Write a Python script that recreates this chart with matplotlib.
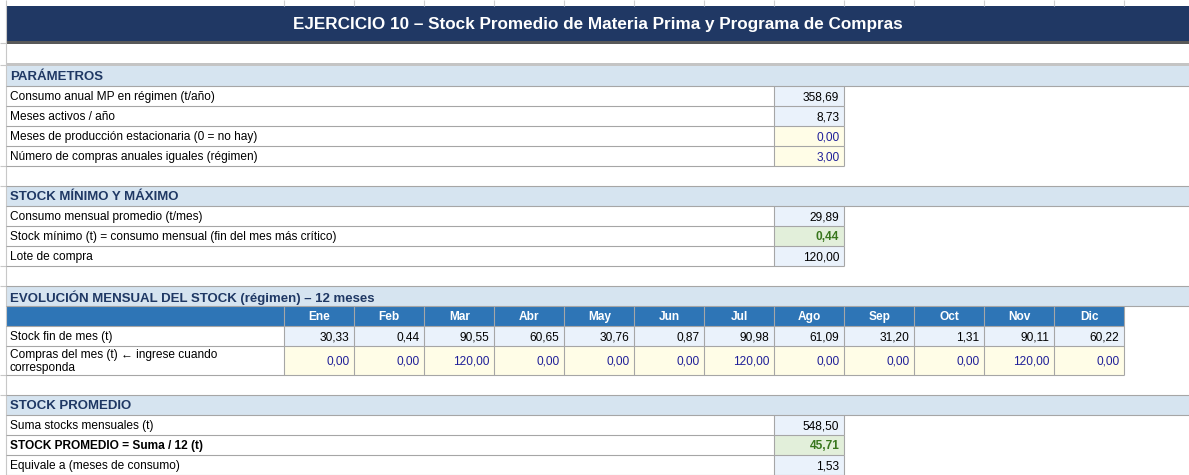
import matplotlib.pyplot as plt
from matplotlib.patches import Rectangle

plt.rcParams['font.family'] = ['Liberation Sans', 'DejaVu Sans']

# ---- data ----
title = "EJERCICIO 10 – Stock Promedio de Materia Prima y Programa de Compras"

param_labels = ["Consumo anual MP en régimen (t/año)",
                "Meses activos / año",
                "Meses de producción estacionaria (0 = no hay)",
                "Número de compras anuales iguales (régimen)"]
param_values = [358.69, 8.73, 0.00, 3.00]
param_kinds = ["calc", "calc", "input", "input"]

minmax_labels = ["Consumo mensual promedio (t/mes)",
                 "Stock mínimo (t) = consumo mensual (fin del mes más crítico)",
                 "Lote de compra"]
minmax_values = [29.89, 0.44, 120.00]
minmax_kinds = ["calc", "result", "calc"]

months = ["Ene", "Feb", "Mar", "Abr", "May", "Jun",
          "Jul", "Ago", "Sep", "Oct", "Nov", "Dic"]
stock_end = [30.33, 0.44, 90.55, 60.65, 30.76, 0.87,
             90.98, 61.09, 31.20, 1.31, 90.11, 60.22]
purchases = [0, 0, 120, 0, 0, 0, 120, 0, 0, 0, 120, 0]

avg_labels = ["Suma stocks mensuales (t)",
              "STOCK PROMEDIO = Suma / 12 (t)",
              "Equivale a (meses de consumo)"]
avg_values = [548.50, 45.71, 1.53]
avg_kinds = ["calc", "result", "calc"]
avg_bold = [False, True, False]

# ---- style ----
NAVY = "#203864"
SEC_BG = "#D6E4F0"
SEC_FG = "#1F3864"
MONTH_BG = "#2E75B6"
CALC_BG = "#EAF2FB"
INPUT_BG = "#FFFDE7"
RES_BG = "#E2EFDA"
GRID = "#A6A6A6"
fills = {"calc": CALC_BG, "input": INPUT_BG, "result": RES_BG}
inks = {"calc": "black", "input": "#1F1F99", "result": "#38761D"}

LEFT = 6
COL0 = 284.3
CW = 70.0
edges = [COL0 + CW * i for i in range(13)]
VX0, VX1 = edges[7], edges[8]
RH = 20
FS = 8.6
DY = 1.3   # small downward nudge so text sits like in the sheet


def fmt(v):
    return f"{v:,.2f}".replace(",", "X").replace(".", ",").replace("X", ".")


def rect(ax, x0, y0, x1, y1, fc, ec="none", lw=0.0, z=1):
    ax.add_patch(Rectangle((x0, y0), x1 - x0, y1 - y0, facecolor=fc,
                           edgecolor=ec, linewidth=lw, zorder=z))


def hline(ax, y, x0, x1, c=GRID, lw=0.8):
    ax.plot([x0, x1], [y, y], color=c, lw=lw, zorder=3, solid_capstyle="butt")


def vline(ax, x, y0, y1, c=GRID, lw=0.8):
    ax.plot([x, x], [y0, y1], color=c, lw=lw, zorder=3, solid_capstyle="butt")


def section(ax, y0, text, thick=False):
    rect(ax, LEFT, y0, 1189, y0 + RH, SEC_BG)
    if thick:
        rect(ax, LEFT, y0 - 3.5, 1189, y0, "#C4C4C4", z=2)
    else:
        hline(ax, y0, LEFT, 1189)
    hline(ax, y0 + RH, LEFT, 1189)
    ax.text(LEFT + 4, y0 + RH / 2 + DY, text, fontsize=9.5, fontweight="bold",
            color=SEC_FG, va="center", ha="left", zorder=4)


def label_rows(ax, y0, labels, values, kinds, bold=None):
    for i, (lab, val, kind) in enumerate(zip(labels, values, kinds)):
        ya, yb = y0 + i * RH, y0 + (i + 1) * RH
        rect(ax, VX0, ya, VX1, yb, fills[kind])
        hline(ax, yb, LEFT, VX1)
        vline(ax, VX0, ya, yb)
        vline(ax, VX1, ya, yb)
        w = "bold" if (bold and bold[i]) else "normal"
        ax.text(LEFT + 4, (ya + yb) / 2 + DY, lab, fontsize=FS, fontweight=w,
                va="center", ha="left", zorder=4)
        ax.text(VX1 - 5, (ya + yb) / 2 + DY, fmt(val), fontsize=FS,
                color=inks[kind],
                fontweight="bold" if kind == "result" else "normal",
                va="center", ha="right", zorder=4)


fig = plt.figure(figsize=(11.89, 4.75), dpi=100)
ax = fig.add_axes([0, 0, 1, 1])
ax.set_xlim(0, 1189)
ax.set_ylim(475, 0)
ax.axis("off")

# sheet gridline stubs above the title and the row-header border
for x in edges:
    vline(ax, x, 0, 6, c="#D0D0D0")
vline(ax, LEFT, 0, 475, c="#C8C8C8")
for y in [43, 65, 166, 186, 266, 286, 375, 395]:
    hline(ax, y, 0, LEFT, c="#C8C8C8")

# title band
rect(ax, LEFT, 6, 1189, 41, NAVY)
rect(ax, LEFT, 41, 1189, 43.5, "#595959")
ax.text((LEFT + 1189) / 2, 24.5, title, fontsize=12.3, fontweight="bold",
        color="white", ha="center", va="center", zorder=4)

# parametros
section(ax, 66, "PARÁMETROS", thick=True)
label_rows(ax, 86, param_labels, param_values, param_kinds)

# stock minimo y maximo
section(ax, 186, "STOCK MÍNIMO Y MÁXIMO")
label_rows(ax, 206, minmax_labels, minmax_values, minmax_kinds)

# evolucion mensual
section(ax, 286, "EVOLUCIÓN MENSUAL DEL STOCK (régimen) – 12 meses")
ym0, ym1, ym2, ym3 = 306, 326, 346, 375
rect(ax, LEFT, ym0, edges[-1], ym1, MONTH_BG)
for i, m in enumerate(months):
    xa, xb = edges[i], edges[i + 1]
    rect(ax, xa, ym1, xb, ym2, CALC_BG)
    rect(ax, xa, ym2, xb, ym3, INPUT_BG)
    ax.text((xa + xb) / 2, (ym0 + ym1) / 2 + DY, m, fontsize=FS,
            fontweight="bold", color="white", ha="center", va="center", zorder=4)
    ax.text(xb - 5, (ym1 + ym2) / 2 + DY, fmt(stock_end[i]), fontsize=FS,
            ha="right", va="center", zorder=4)
    ax.text(xb - 5, (ym2 + ym3) / 2 + DY, fmt(purchases[i]), fontsize=FS,
            color=inks["input"], ha="right", va="center", zorder=4)
for x in edges:
    vline(ax, x, ym0, ym3)
for y in [ym1, ym2, ym3]:
    hline(ax, y, LEFT, edges[-1])
ax.text(LEFT + 4, (ym1 + ym2) / 2 + DY, "Stock fin de mes (t)", fontsize=FS,
        ha="left", va="center", zorder=4)
ax.text(LEFT + 4, (ym2 + ym3) / 2 + DY,
        "Compras del mes (t) ← ingrese cuando\ncorresponda", fontsize=FS,
        ha="left", va="center", linespacing=1.15, zorder=4)

# stock promedio
section(ax, 395, "STOCK PROMEDIO")
label_rows(ax, 415, avg_labels, avg_values, avg_kinds, bold=avg_bold)

fig.savefig("out.png", dpi=100)
